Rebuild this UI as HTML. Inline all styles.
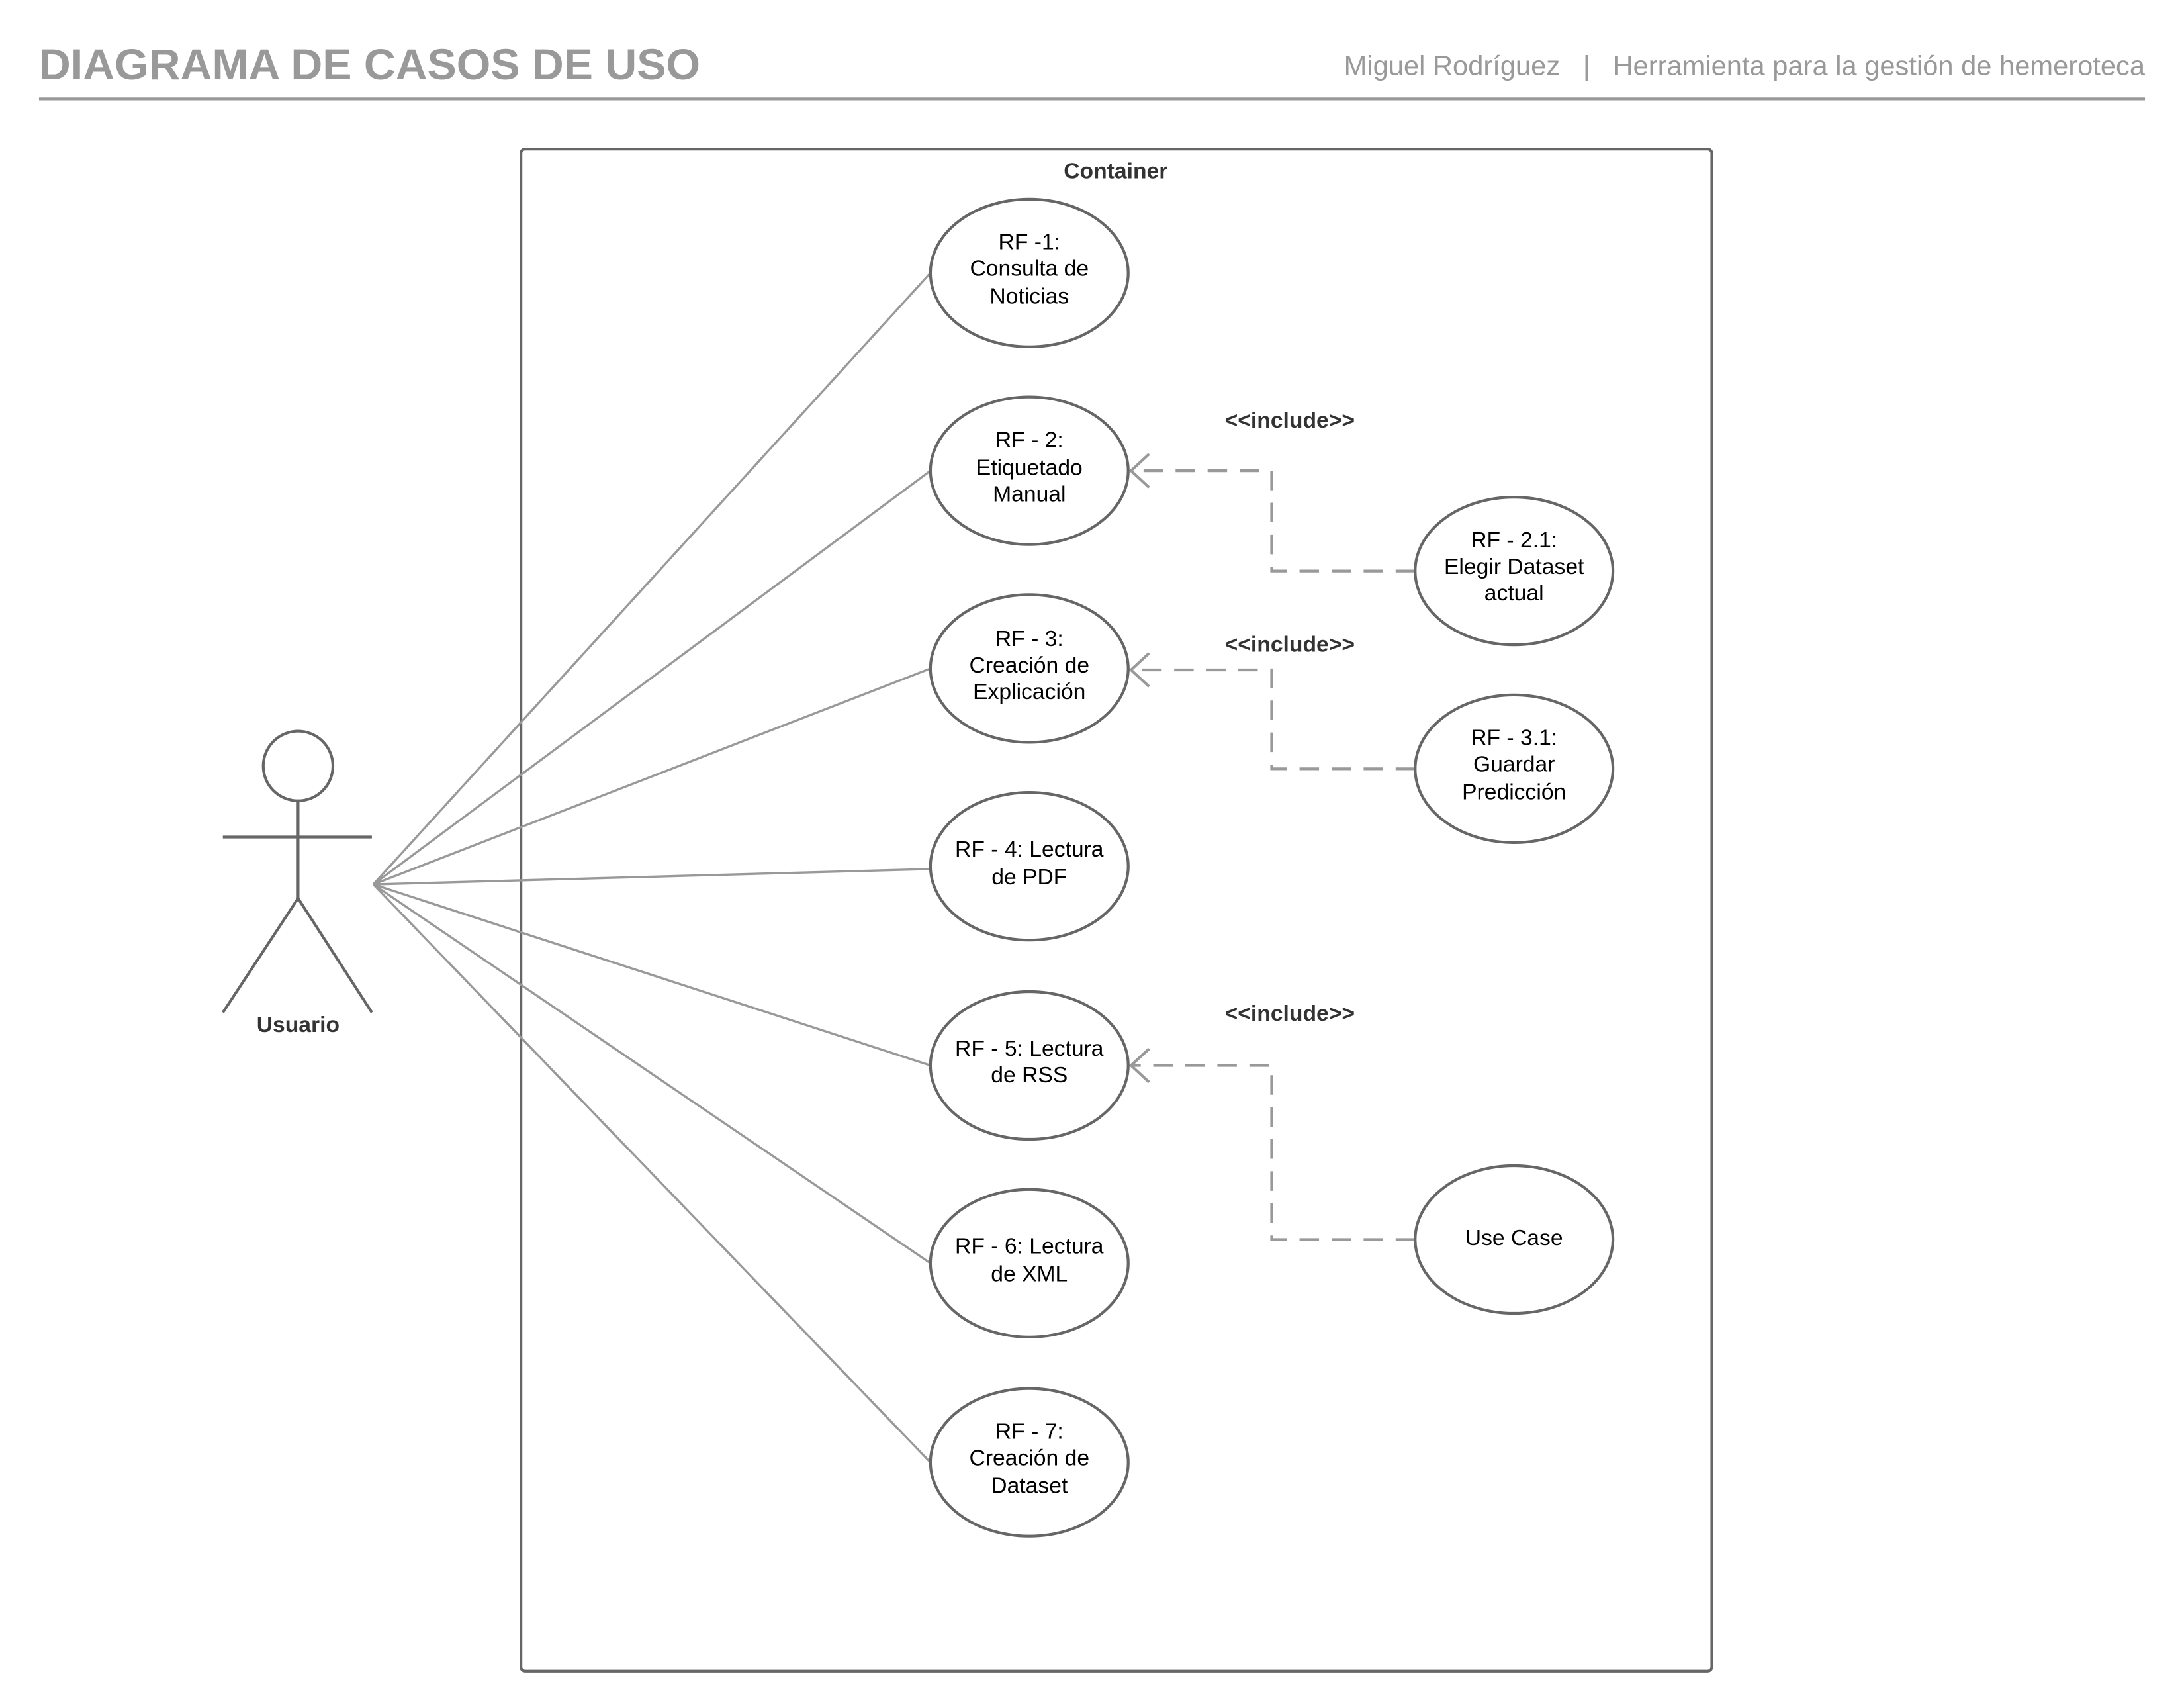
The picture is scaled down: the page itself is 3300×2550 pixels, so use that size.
<!DOCTYPE html>
<html><head><meta charset="utf-8"><style>html,body{margin:0;padding:0;background:#fff}svg{display:block}</style></head>
<body>
<svg width="3300" height="2550" viewBox="0 0 1568 1212" preserveAspectRatio="none" xmlns="http://www.w3.org/2000/svg" font-family="Liberation Sans, sans-serif">
<rect width="1568" height="1212" fill="#fff"/>
<text x="28" y="57" font-size="31.5" font-weight="bold" fill="#999">DIAGRAMA DE CASOS DE USO</text>
<text x="1540" y="54" font-size="19.8" fill="#999" text-anchor="end" xml:space="preserve">Miguel Rodríguez   |   Herramienta para la gestión de hemeroteca</text>
<line x1="28" y1="71" x2="1540" y2="71" stroke="#999" stroke-width="2"/>
<rect x="374" y="107" width="855" height="1093" rx="3" fill="none" stroke="#666" stroke-width="2"/>
<text x="801" y="128" font-size="16" font-weight="bold" fill="#333" text-anchor="middle">Container</text>
<g stroke="#999" stroke-width="1.6" fill="none">
<line x1="268" y1="635" x2="668" y2="196"/>
<line x1="268" y1="635" x2="668" y2="338"/>
<line x1="268" y1="635" x2="668" y2="480"/>
<line x1="268" y1="635" x2="668" y2="624"/>
<line x1="268" y1="635" x2="668" y2="765"/>
<line x1="268" y1="635" x2="668" y2="907"/>
<line x1="268" y1="635" x2="668" y2="1050"/>
</g>
<g stroke="#999" stroke-width="2" fill="none" stroke-dasharray="14,9">
<path d="M1016 410 H913 V338 H812"/>
<path d="M1016 552 H913 V481 H812"/>
<path d="M1016 890 H913 V765 H812"/>
</g>
<g stroke="#999" stroke-width="2" fill="none">
<path d="M825 326 L812 338 L825 350"/>
<path d="M825 469 L812 481 L825 493"/>
<path d="M825 753 L812 765 L825 777"/>
</g>
<g font-size="16" font-weight="bold" fill="#333" text-anchor="middle">
<text x="926" y="307">&lt;&lt;include&gt;&gt;</text>
<text x="926" y="468">&lt;&lt;include&gt;&gt;</text>
<text x="926" y="733">&lt;&lt;include&gt;&gt;</text>
<text x="214" y="741" font-size="16">Usuario</text>
</g>
<g stroke="#666" stroke-width="2" fill="#fff">
<ellipse cx="739" cy="196" rx="71" ry="53"/>
<ellipse cx="739" cy="338" rx="71" ry="53"/>
<ellipse cx="739" cy="480" rx="71" ry="53"/>
<ellipse cx="739" cy="622" rx="71" ry="53"/>
<ellipse cx="739" cy="765" rx="71" ry="53"/>
<ellipse cx="739" cy="907" rx="71" ry="53"/>
<ellipse cx="739" cy="1050" rx="71" ry="53"/>
<ellipse cx="1087" cy="410" rx="71" ry="53"/>
<ellipse cx="1087" cy="552" rx="71" ry="53"/>
<ellipse cx="1087" cy="890" rx="71" ry="53"/>
<circle cx="214" cy="550" r="25"/>
<path d="M160 601 H267 M214 575 V645 L160 727 M214 645 L267 727" fill="none"/>
</g>
<g font-size="16" fill="#000" text-anchor="middle">
<text x="739" y="179">RF -1:</text><text x="739" y="198">Consulta de</text><text x="739" y="218">Noticias</text>
<text x="739" y="321">RF - 2:</text><text x="739" y="341">Etiquetado</text><text x="739" y="360">Manual</text>
<text x="739" y="464">RF - 3:</text><text x="739" y="483">Creación de</text><text x="739" y="502">Explicación</text>
<text x="739" y="615">RF - 4: Lectura</text><text x="739" y="635">de PDF</text>
<text x="739" y="758">RF - 5: Lectura</text><text x="739" y="777">de RSS</text>
<text x="739" y="900">RF - 6: Lectura</text><text x="739" y="920">de XML</text>
<text x="739" y="1033">RF - 7:</text><text x="739" y="1052">Creación de</text><text x="739" y="1072">Dataset</text>
<text x="1087" y="393">RF - 2.1:</text><text x="1087" y="412">Elegir Dataset</text><text x="1087" y="431">actual</text>
<text x="1087" y="535">RF - 3.1:</text><text x="1087" y="554">Guardar</text><text x="1087" y="574">Predicción</text>
<text x="1087" y="894">Use Case</text>
</g>
</svg>
</body></html>
